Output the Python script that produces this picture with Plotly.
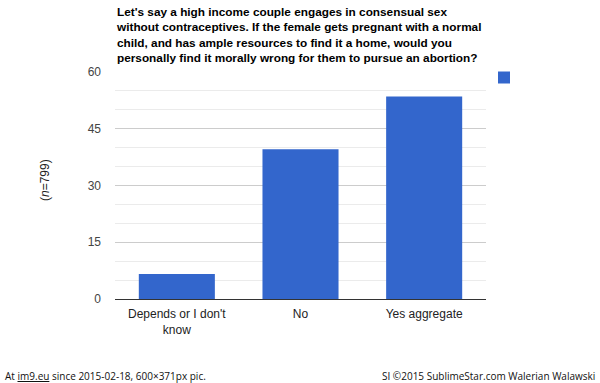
import plotly.graph_objects as go

categories = ["Depends or I don't<br>know", "No", "Yes aggregate"]
values = [6.6, 39.6, 53.5]
tick_vals = [0, 15, 30, 45, 60]
tick_text = ["0", "15", "30", "45", "60"]
title_text = ("<b>Let's say a high income couple engages in consensual sex<br>"
              "without contraceptives. If the female gets pregnant with a normal<br>"
              "child, and has ample resources to find it a home, would you<br>"
              "personally find it morally wrong for them to pursue an abortion?</b>")
y_title = "(<i>n</i>=799)"
footer_left = "At <u>im9.eu</u> since 2015-02-18, 600×371px pic."
footer_right = "SI ©2015 SublimeStar.com Walerian Walawski"

W, H = 600, 383
L, R, T, B = 115, 114, 72, 84
pw, ph = W - L - R, H - T - B

def px_x(x):
    return (x - L) / pw

def px_y(y):
    return (H - B - y) / ph

fig = go.Figure()
fig.add_trace(go.Bar(
    x=categories, y=values, name=" ",
    marker=dict(color="#3366cc", line=dict(width=0)),
    showlegend=True, hoverinfo="skip",
))

fig.update_layout(
    width=W, height=H,
    margin=dict(l=L, r=R, t=T, b=B, pad=0),
    paper_bgcolor="white", plot_bgcolor="white",
    font=dict(family="Liberation Sans, Arial, sans-serif", size=12, color="#222222"),
    bargap=0.385,
    showlegend=True,
    legend=dict(x=px_x(484), y=px_y(63), xanchor="left", yanchor="top",
                bgcolor="rgba(0,0,0,0)", borderwidth=0,
                font=dict(size=12, color="#222222")),
    xaxis=dict(showgrid=False, showline=False, ticks="", zeroline=False,
               ticklabelstandoff=6,
               tickfont=dict(size=12, color="#222222")),
    yaxis=dict(range=[0, 60], tickvals=tick_vals, ticktext=tick_text,
               showgrid=True, gridcolor="#cccccc", gridwidth=1,
               minor=dict(dtick=5, showgrid=True, gridcolor="#ebebeb", gridwidth=1),
               zeroline=True, zerolinecolor="#333333", zerolinewidth=1,
               showline=False, ticks="", ticklabelstandoff=13,
               tickfont=dict(size=12, color="#444444")),
)

fig.add_annotation(text=title_text, xref="paper", yref="paper",
                   x=px_x(114), y=px_y(3), xanchor="left", yanchor="top",
                   align="left", showarrow=False,
                   font=dict(family="Liberation Sans, Arial, sans-serif", size=11.8, color="#000000"))
fig.add_annotation(text=y_title, xref="paper", yref="paper",
                   x=px_x(45), y=px_y(180), xanchor="center", yanchor="middle",
                   textangle=-90, showarrow=False,
                   font=dict(size=12, color="#222222"))
fig.add_annotation(text=footer_left, xref="paper", yref="paper",
                   x=px_x(3), y=px_y(376), xanchor="left", yanchor="middle",
                   showarrow=False,
                   font=dict(family="Open Sans, sans-serif", size=10, color="#111111"))
fig.add_annotation(text=footer_right, xref="paper", yref="paper",
                   x=px_x(597), y=px_y(376), xanchor="right", yanchor="middle",
                   showarrow=False,
                   font=dict(family="Open Sans, sans-serif", size=10, color="#111111"))

fig.write_html("out.html", config={"displayModeBar": False},
               post_script="document.body.style.margin='0';document.body.style.overflow='hidden';")
